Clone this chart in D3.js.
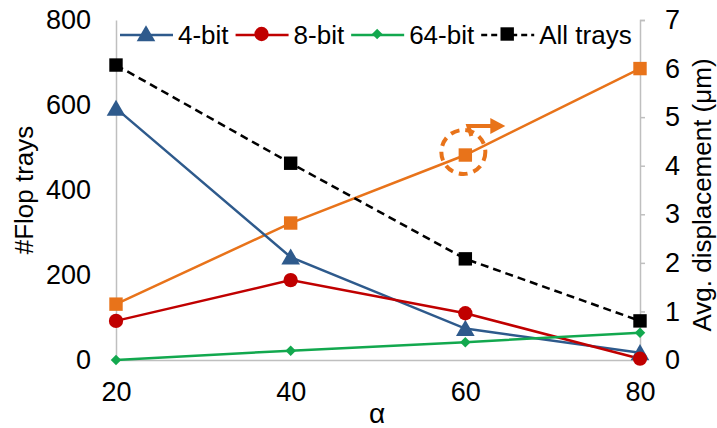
<!DOCTYPE html>
<html>
<head>
<meta charset="utf-8">
<script src="https://cdn.jsdelivr.net/npm/d3@7"></script>
<style>
  body { margin: 0; background: #fff; }
  text { font-family: "Liberation Sans", Arial, sans-serif; fill: #000; }
</style>
</head>
<body>
<div id="container"></div>
<script>
let width = 717;
let height = 428;

// data
var alphas = [20, 40, 60, 80];
var bit4 = [592, 242, 74, 17];
var bit8 = [92, 188, 110, 3];
var bit64 = [0, 22, 42, 64];
var allTrays = [694, 463, 238, 92];
var displacement = [1.15, 2.82, 4.22, 6.0];   // right axis, um

var leftTicks = [0, 200, 400, 600, 800];
var rightTicks = [0, 1, 2, 3, 4, 5, 6, 7];

var seriesNote = [
  {name: '4-bit', color: '#2E5A8C', shape: 'triangle', values: bit4, dash: null},
  {name: '8-bit', color: '#C00000', shape: 'circle', values: bit8, dash: null},
  {name: '64-bit', color: '#12A84E', shape: 'diamond', values: bit64, dash: null},
  {name: 'All trays', color: '#000000', shape: 'square', values: allTrays, dash: '8,5'}
];
var orange = '#E8731A';

let margin = {left: 116, right: 77, top: 20, bottom: 68};
let plotW = width - margin.left - margin.right;
let plotH = height - margin.top - margin.bottom;

let viz = d3.select("#container").append("svg")
    .attr("width", width)
    .attr("height", height);

let x = d3.scaleLinear().domain([20, 80]).range([margin.left, margin.left + plotW]);
let yL = d3.scaleLinear().domain([0, 800]).range([margin.top + plotH, margin.top]);
let yR = d3.scaleLinear().domain([0, 7]).range([margin.top + plotH, margin.top]);

let axisColor = '#BFBFBF';

// left axis
let leftAxis = viz.append("g")
  .attr("transform", "translate(" + margin.left + ",0)")
  .call(d3.axisLeft(yL).tickValues(leftTicks).tickSize(0).tickPadding(25));
// right axis
let rightAxis = viz.append("g")
  .attr("transform", "translate(" + (margin.left + plotW) + ",0)")
  .call(d3.axisRight(yR).tickValues(rightTicks).tickFormat(d3.format("d")).tickSize(5).tickPadding(20));
// bottom axis
let bottomAxis = viz.append("g")
  .attr("transform", "translate(0," + (margin.top + plotH) + ")")
  .call(d3.axisBottom(x).tickValues(alphas).tickSize(0).tickPadding(22));

[leftAxis, rightAxis, bottomAxis].forEach(function(a){
  a.select(".domain").attr("stroke", axisColor).attr("stroke-width", 1.5);
  a.selectAll(".tick line").attr("stroke", axisColor).attr("stroke-width", 1.5);
  a.selectAll(".tick text").style("font-size", "27px").attr("fill", "#000")
    .style("font-family", "'Liberation Sans', Arial, sans-serif");
});

// axis titles
viz.append("text")
  .attr("transform", "translate(33," + (margin.top + plotH / 2) + ") rotate(-90)")
  .attr("text-anchor", "middle")
  .style("font-size", "26px")
  .text("#Flop trays");

viz.append("text")
  .attr("transform", "translate(711," + (margin.top + plotH / 2 + 5) + ") rotate(-90)")
  .attr("text-anchor", "middle")
  .style("font-size", "26px")
  .text("Avg. displacement (μm)");

viz.append("text")
  .attr("x", 377)
  .attr("y", 423)
  .attr("text-anchor", "middle")
  .style("font-size", "28px")
  .text("α");

function symbolFor(shape) {
  if (shape == 'triangle') return d3.symbol().type(d3.symbolTriangle).size(150);
  if (shape == 'circle') return d3.symbol().type(d3.symbolCircle).size(160);
  if (shape == 'diamond') return d3.symbol().type(d3.symbolSquare).size(55);
  return d3.symbol().type(d3.symbolSquare).size(180);
}
// diamond = square turned 45 degrees
function markTransform(shape, px, py) {
  let t = "translate(" + px + "," + (py + (shape == 'triangle' ? 2 : 0)) + ")";
  if (shape == 'diamond') t += " rotate(45)";
  return t;
}

// orange displacement series (right axis)
let dispLine = d3.line().x(function(d, i){ return x(alphas[i]); }).y(function(d){ return yR(d); });
viz.append("path")
  .datum(displacement)
  .attr("d", dispLine)
  .attr("fill", "none")
  .attr("stroke", orange)
  .attr("stroke-width", 2.5);

// flop tray series (left axis)
let trayLine = d3.line().x(function(d, i){ return x(alphas[i]); }).y(function(d){ return yL(d); });
seriesNote.forEach(function(s){
  viz.append("path")
    .datum(s.values)
    .attr("d", trayLine)
    .attr("fill", "none")
    .attr("stroke", s.color)
    .attr("stroke-width", 2.5)
    .attr("stroke-dasharray", s.dash);
});

viz.append("g").selectAll("path")
  .data(displacement)
  .enter().append("path")
  .attr("d", symbolFor('square')())
  .attr("transform", function(d, i){ return markTransform('square', x(alphas[i]), yR(d)); })
  .attr("fill", orange);

seriesNote.forEach(function(s){
  viz.append("g").selectAll("path")
    .data(s.values)
    .enter().append("path")
    .attr("d", symbolFor(s.shape)())
    .attr("transform", function(d, i){ return markTransform(s.shape, x(alphas[i]), yL(d)); })
    .attr("fill", s.color);
});

// annotation: dashed circle + arrow pointing to right axis
let cx = x(60) - 2, cy = yR(displacement[2]) - 3;
viz.append("circle")
  .attr("cx", cx).attr("cy", cy).attr("r", 22)
  .attr("fill", "none")
  .attr("stroke", orange)
  .attr("stroke-width", 4)
  .attr("stroke-dasharray", "9,6");

viz.append("path")
  .attr("d", "M" + (cx + 8) + "," + (cy - 16) + " L" + (cx + 5) + "," + (cy - 26) + " L" + (cx + 30) + "," + (cy - 26))
  .attr("fill", "none")
  .attr("stroke", orange)
  .attr("stroke-width", 4);
viz.append("path")
  .attr("d", "M" + (cx + 27) + "," + (cy - 34) + " L" + (cx + 42) + "," + (cy - 26) + " L" + (cx + 27) + "," + (cy - 18) + " Z")
  .attr("fill", orange);

// legend
let legend = viz.append("g").attr("class", "legend");
let lx = 120, ly = 35;
seriesNote.forEach(function(s){
  legend.append("line")
    .attr("x1", lx).attr("x2", lx + 53)
    .attr("y1", ly).attr("y2", ly)
    .attr("stroke", s.color)
    .attr("stroke-width", 2.5)
    .attr("stroke-dasharray", s.dash ? "6,4" : null);
  legend.append("path")
    .attr("d", symbolFor(s.shape)())
    .attr("transform", markTransform(s.shape, lx + 26, ly - 1))
    .attr("fill", s.color);
  let t = legend.append("text")
    .attr("x", lx + 58)
    .attr("y", ly + 9)
    .style("font-size", "26px")
    .text(s.name);
  lx = lx + 58 + t.node().getComputedTextLength() + 7;
});
</script>
</body>
</html>
